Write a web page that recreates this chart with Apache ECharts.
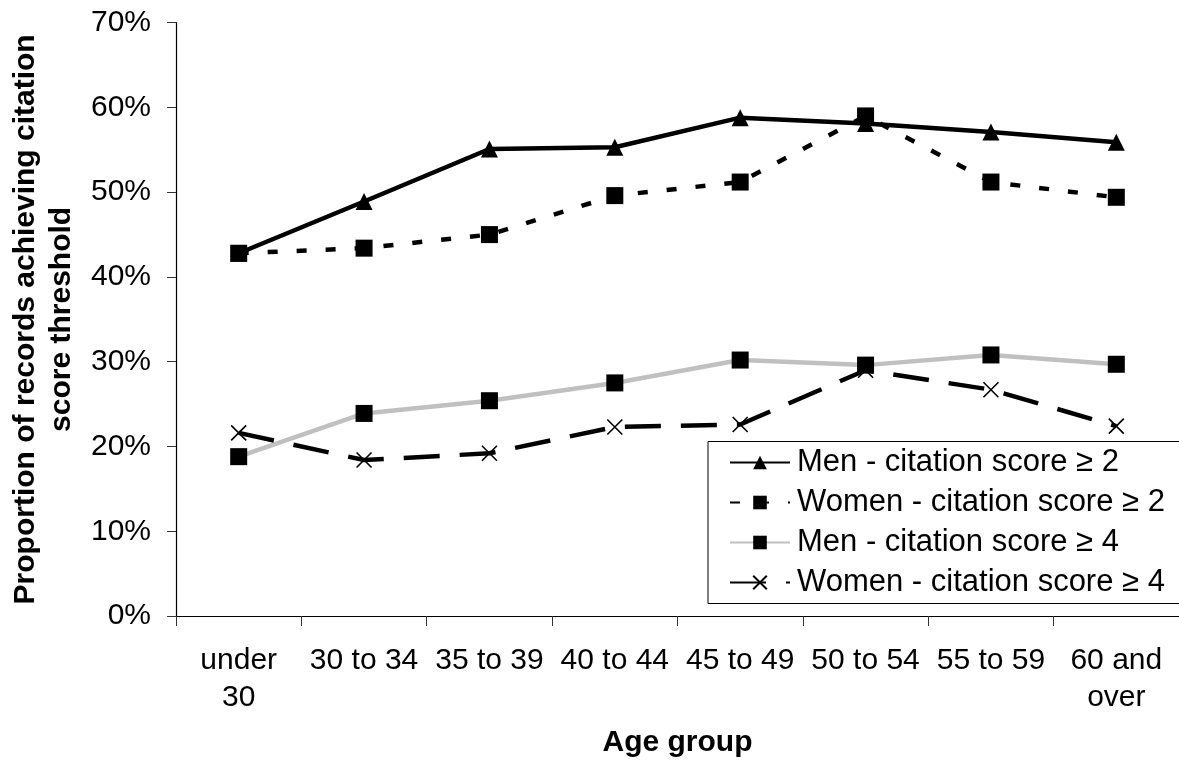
<!DOCTYPE html>
<html>
<head>
<meta charset="utf-8">
<script src="https://cdn.jsdelivr.net/npm/echarts@6/dist/echarts.min.js"></script>
<style>
  html, body { margin: 0; padding: 0; background: #fff; }
  #chart { width: 1179px; height: 763px; }
</style>
</head>
<body>
<div id="chart"></div>
<script>
// Age groups along the x axis
const ageGroups = ['under\n30', '30 to 34', '35 to 39', '40 to 44', '45 to 49', '50 to 54', '55 to 59', '60 and\nover'];

// Share of records (%) reaching each citation score threshold
const menScore2   = [42.8, 48.9, 55.1, 55.3, 58.8, 58.1, 57.1, 55.9];
const womenScore2 = [42.8, 43.4, 45.0, 49.6, 51.2, 59.0, 51.2, 49.4];
const menScore4   = [18.8, 23.9, 25.4, 27.5, 30.2, 29.6, 30.8, 29.7];
const womenScore4 = [21.6, 18.4, 19.2, 22.3, 22.6, 29.0, 26.7, 22.4];

const seriesNames = [
  'Men - citation score \u2265 2',
  'Women - citation score \u2265 2',
  'Men - citation score \u2265 4',
  'Women - citation score \u2265 4'
];

const FONT = '"Liberation Sans", Arial, sans-serif';
const crossSymbol = 'path://M0,0L10,10M10,0L0,10';

const chart = echarts.init(document.getElementById('chart'), null, { renderer: 'canvas' });

chart.setOption({
  animation: false,
  backgroundColor: '#fff',
  textStyle: { fontFamily: FONT, color: '#000' },
  grid: { left: 170.5, top: 22.7, width: 1010.4, height: 596.6, containLabel: false },
  legend: {
    orient: 'vertical',
    left: 708,
    top: 441.5,
    padding: [4, 40, 4, 21],
    itemWidth: 60,
    itemHeight: 17,
    itemGap: 6,
    borderColor: '#000',
    borderWidth: 1,
    backgroundColor: '#fff',
    textStyle: { fontFamily: FONT, fontSize: 31, color: '#000', lineHeight: 34, padding: [0, 0, 0, 2] },
    data: seriesNames
  },
  xAxis: {
    type: 'category',
    data: ageGroups,
    boundaryGap: true,
    name: 'Age group',
    nameLocation: 'middle',
    nameGap: 112,
    nameTextStyle: { fontFamily: FONT, fontSize: 30, fontWeight: 'bold', color: '#000' },
    axisLine: { lineStyle: { color: '#000', width: 1.2 } },
    axisTick: { show: true, alignWithLabel: false, length: 10, lineStyle: { color: '#333' } },
    axisLabel: { fontFamily: FONT, fontSize: 30, color: '#000', margin: 26, lineHeight: 37, interval: 0 },
    splitLine: { show: false }
  },
  yAxis: {
    type: 'value',
    min: 0,
    max: 70,
    interval: 10,
    name: 'Proportion of records achieving citation\nscore threshold',
    nameLocation: 'middle',
    nameGap: 96,
    nameRotate: 90,
    nameTextStyle: { fontFamily: FONT, fontSize: 30, fontWeight: 'bold', color: '#000', lineHeight: 36 },
    axisLine: { show: true, lineStyle: { color: '#000', width: 1.2 } },
    axisTick: { show: true, length: 9, lineStyle: { color: '#333' } },
    axisLabel: { fontFamily: FONT, fontSize: 30, color: '#000', margin: 25, formatter: '{value}%' },
    splitLine: { show: false }
  },
  series: [
    {
      name: seriesNames[0],
      type: 'line',
      data: menScore2,
      symbol: 'triangle',
      symbolSize: 17,
      itemStyle: { color: '#000' },
      lineStyle: { color: '#000', width: 4.5, type: 'solid' },
      z: 4
    },
    {
      name: seriesNames[1],
      type: 'line',
      data: womenScore2,
      symbol: 'rect',
      symbolSize: 17,
      itemStyle: { color: '#000' },
      lineStyle: { color: '#000', width: 4.5, type: [10, 19] },
      z: 3
    },
    {
      name: seriesNames[2],
      type: 'line',
      data: menScore4,
      symbol: 'rect',
      symbolSize: 17,
      itemStyle: { color: '#000' },
      lineStyle: { color: '#c0c0c0', width: 4.5, type: 'solid' },
      z: 2
    },
    {
      name: seriesNames[3],
      type: 'line',
      data: womenScore4,
      symbol: crossSymbol,
      symbolSize: 15,
      symbolKeepAspect: true,
      itemStyle: { color: 'none', borderColor: '#000', borderWidth: 1.6 },
      lineStyle: { color: '#000', width: 4.5, type: [36, 20] },
      z: 2
    }
  ]
});
</script>
</body>
</html>
